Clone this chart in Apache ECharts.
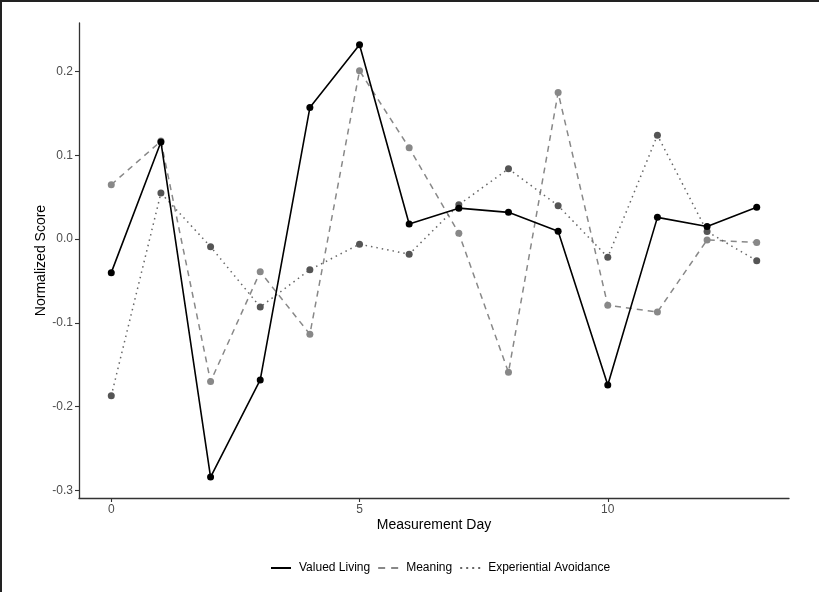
<!DOCTYPE html>
<html>
<head>
<meta charset="utf-8">
<script src="https://cdn.jsdelivr.net/npm/echarts@6/dist/echarts.min.js"></script>
<style>
html,body{margin:0;padding:0;background:#fff;}
#chart{width:819px;height:592px;}
</style>
</head>
<body>
<div id="chart"></div>
<script>
const days = [0,1,2,3,4,5,6,7,8,9,10,11,12,13];
const valuedLiving = [-0.040,0.116,-0.284,-0.168,0.157,0.232,0.018,0.037,0.032,0.0095,-0.174,0.026,0.015,0.038];
const meaning = [0.065,0.117,-0.170,-0.039,-0.1135,0.201,0.109,0.007,-0.159,0.175,-0.079,-0.087,-0.001,-0.004];
const experientialAvoidance = [-0.187,0.055,-0.009,-0.081,-0.0365,-0.006,-0.018,0.041,0.084,0.040,-0.0216,0.124,0.009,-0.0257];
const xTicks = [0,5,10];
const yTicks = [-0.3,-0.2,-0.1,0.0,0.1,0.2];
const seriesNames = ['Valued Living','Meaning','Experiential Avoidance'];

const pairs = vals => days.map((d,i)=>[d, vals[i]]);

const chart = echarts.init(document.getElementById('chart'), null, {renderer:'canvas'});
const font = 'Liberation Sans, Arial, Helvetica, sans-serif';

const option = {
  animation:false,
  backgroundColor:'#fff',
  textStyle:{fontFamily:font},
  grid:{left:79, right:30, top:23, bottom:94, containLabel:false},
  xAxis:{
    type:'value', min:-0.65, max:13.65,
    name:'Measurement Day', nameLocation:'middle', nameGap:20, nameMoveOverlap:false,
    nameTextStyle:{color:'#000', fontSize:14, fontFamily:font},
    axisLine:{show:true, onZero:false, lineStyle:{color:'#333', width:1.3}},
    axisTick:{show:true, length:4, customValues:xTicks, lineStyle:{color:'#333', width:1.1}},
    axisLabel:{customValues:xTicks, color:'#4d4d4d', fontSize:12, margin:6, fontFamily:font},
    splitLine:{show:false}
  },
  yAxis:{
    type:'value', min:-0.309, max:0.258,
    name:'Normalized Score', nameLocation:'middle', nameGap:31, nameRotate:90, nameMoveOverlap:false,
    nameTextStyle:{color:'#000', fontSize:14, fontFamily:font},
    axisLine:{show:true, onZero:false, lineStyle:{color:'#333', width:1.3}},
    axisTick:{show:true, length:4, customValues:yTicks, lineStyle:{color:'#333', width:1.1}},
    axisLabel:{customValues:yTicks, color:'#4d4d4d', fontSize:12, margin:6, fontFamily:font,
      formatter:v=>v.toFixed(1)},
    splitLine:{show:false}
  },
  legend:{
    left:271, top:562, padding:0, orient:'horizontal', itemGap:8, itemWidth:20, itemHeight:2,
    textStyle:{color:'#000', fontSize:12, fontFamily:font, padding:[0,0,0,3]},
    data:[
      {name:seriesNames[0], icon:'path://M0,0h20v2h-20z', itemStyle:{color:'#000'}},
      {name:seriesNames[1], icon:'path://M0,0h7v2h-7zM13,0h7v2h-7z', itemStyle:{color:'#888'}},
      {name:seriesNames[2], icon:'path://M0,0h2v2h-2zM6,0h2v2h-2zM12,0h2v2h-2zM18,0h2v2h-2z', itemStyle:{color:'#666'}}
    ]
  },
  series:[
    {name:seriesNames[0], type:'line', data:pairs(valuedLiving), symbol:'circle', symbolSize:7,
      itemStyle:{color:'#000'}, lineStyle:{color:'#000', width:1.6, type:'solid'}, z:3},
    {name:seriesNames[1], type:'line', data:pairs(meaning), symbol:'circle', symbolSize:7,
      itemStyle:{color:'#888'}, lineStyle:{color:'#888', width:1.5, type:[6,5]}, z:2},
    {name:seriesNames[2], type:'line', data:pairs(experientialAvoidance), symbol:'circle', symbolSize:7,
      itemStyle:{color:'#555'}, lineStyle:{color:'#666', width:1.5, type:[1.5,4]}, z:2}
  ],
  graphic:[
    {type:'line', shape:{x1:0, y1:1, x2:819, y2:1}, style:{stroke:'#222', lineWidth:2}, silent:true},
    {type:'line', shape:{x1:1, y1:0, x2:1, y2:592}, style:{stroke:'#222', lineWidth:2}, silent:true}
  ]
};
chart.setOption(option);
</script>
</body>
</html>
